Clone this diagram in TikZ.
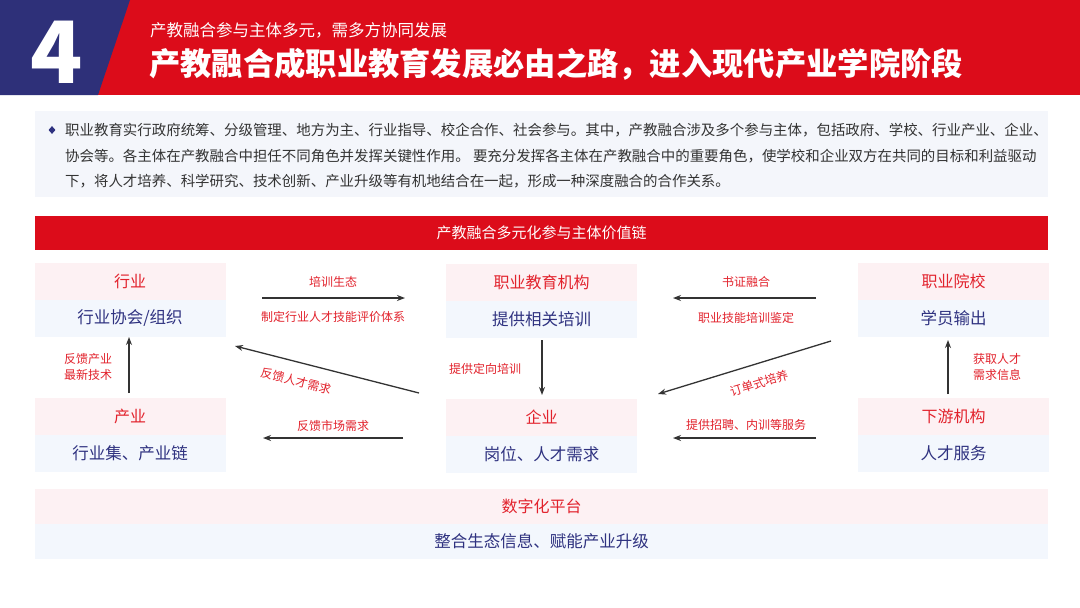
\documentclass[tikz,border=0pt]{standalone}
\usepackage{fontspec}
\setmainfont{Noto Sans CJK SC}
\usetikzlibrary{arrows.meta,shapes.geometric}
\definecolor{hred}{HTML}{DC0C1A}
\definecolor{hblue}{HTML}{2E3079}
\definecolor{tred}{HTML}{E2222C}
\definecolor{tnavy}{HTML}{2F3280}
\definecolor{pinkbg}{HTML}{FDF1F3}
\definecolor{bluebg}{HTML}{F3F7FD}
\definecolor{boxbg}{HTML}{F4F6FB}
\definecolor{arr}{HTML}{333333}
\definecolor{body}{HTML}{333333}
\tikzset{
  x=1pt, y=-1pt,
  head/.style={fill=pinkbg, text=tred, minimum width=191pt, minimum height=37pt, inner sep=0pt, font=\fontsize{16}{18}\selectfont},
  sub/.style={fill=bluebg, text=tnavy, minimum width=191pt, minimum height=37pt, inner sep=0pt, font=\fontsize{16.5}{18}\selectfont},
  lab/.style={text=tred, inner sep=1pt, font=\fontsize{12}{16}\selectfont},
  flow/.style={draw=arr, line width=1.3pt, -{Stealth[length=8pt,width=6pt]}},
  bodytxt/.style={anchor=west, text=body, inner sep=0pt, font=\fontsize{14.45}{17}\selectfont},
}
\begin{document}
\begin{tikzpicture}
\useasboundingbox (0,0) rectangle (1080,608);
\fill[white] (0,0) rectangle (1080,608);
% header
\fill[hred] (0,0) rectangle (1080,95);
\fill[hblue] (0,0) -- (130,0) -- (98,95) -- (0,95) -- cycle;
\node[text=white, font=\fontsize{86}{86}\bfseries\selectfont, inner sep=0pt] (num) at (57,52) {4};
\node[anchor=west, text=white, inner sep=0pt, font=\fontsize{16.5}{18}\selectfont] (subt) at (150,30) {产教融合参与主体多元，需多方协同发展};
\node[anchor=west, text=white, inner sep=0pt, font=\fontsize{31.3}{33}\bfseries\selectfont] (title) at (149,64) {产教融合成职业教育发展必由之路，进入现代产业学院阶段};
% intro box
\fill[boxbg] (35,111) rectangle (1048,197);
\node[diamond, fill=tnavy, inner sep=0pt, minimum width=7pt, minimum height=8pt] (bul) at (52,130) {};
\node[bodytxt] (l1) at (65,130) {职业教育实行政府统筹、分级管理、地方为主、行业指导、校企合作、社会参与。其中，产教融合涉及多个参与主体，包括政府、学校、行业产业、企业、};
\node[bodytxt] (l2) at (65,156) {协会等。各主体在产教融合中担任不同角色并发挥关键性作用。 要充分发挥各主体在产教融合中的重要角色，使学校和企业双方在共同的目标和利益驱动};
\node[bodytxt] (l3) at (65,181) {下，将人才培养、科学研究、技术创新、产业升级等有机地结合在一起，形成一种深度融合的合作关系。};
% red bar
\node[fill=hred, text=white, minimum width=1013pt, minimum height=34pt, inner sep=0pt, font=\fontsize{15}{18}\selectfont] (bar) at (541.5,233) {产教融合多元化参与主体价值链};
% boxes
\node[head] (hy) at (130,281) {行业};
\node[sub] (hys) at (130,318) {行业协会/组织};
\node[head] (cy) at (130,416) {产业};
\node[sub] (cys) at (130,453) {行业集、产业链};
\node[head] (zj) at (541.5,282) {职业教育机构};
\node[sub] (zjs) at (541.5,319) {提供相关培训};
\node[head] (qy) at (541.5,417) {企业};
\node[sub] (qys) at (541.5,454) {岗位、人才需求};
\node[head] (yx) at (953.5,281) {职业院校};
\node[sub] (yxs) at (953.5,318) {学员输出};
\node[head] (xy) at (953.5,416) {下游机构};
\node[sub] (xys) at (953.5,453) {人才服务};
\node[head, minimum width=1013pt, minimum height=35pt] (pt) at (541.5,506) {数字化平台};
\node[sub, minimum width=1013pt, minimum height=35pt] (pts) at (541.5,541) {整合生态信息、赋能产业升级};
% connector ends
\coordinate (a1s) at (262,298); \coordinate (a1e) at (405,298);
\coordinate (a2s) at (816,298); \coordinate (a2e) at (673,298);
\coordinate (a3s) at (542,340); \coordinate (a3e) at (542,395);
\coordinate (a4s) at (831,341); \coordinate (a4e) at (658,394);
\coordinate (a5s) at (816,438); \coordinate (a5e) at (673,438);
\coordinate (a6s) at (403,438); \coordinate (a6e) at (263,438);
\coordinate (a7s) at (419,393); \coordinate (a7e) at (235,346);
\coordinate (a8s) at (129,393); \coordinate (a8e) at (129,337);
\coordinate (a9s) at (948,394); \coordinate (a9e) at (948,340);
\draw[flow] (a1s) -- (a1e);
\draw[flow] (a2s) -- (a2e);
\draw[flow] (a3s) -- (a3e);
\draw[flow] (a4s) -- (a4e);
\draw[flow] (a5s) -- (a5e);
\draw[flow] (a6s) -- (a6e);
\draw[flow] (a7s) -- (a7e);
\draw[flow] (a8s) -- (a8e);
\draw[flow] (a9s) -- (a9e);
% labels
\node[lab] (t1) at (333,282) {培训生态};
\node[lab] (t1b) at (333,317) {制定行业人才技能评价体系};
\node[lab] (t2) at (746,282) {书证融合};
\node[lab] (t2b) at (746,318) {职业技能培训鉴定};
\node[lab] (t3) at (485,369) {提供定向培训};
\node[lab, rotate=17] (t4) at (759,383) {订单式培养};
\node[lab] (t5) at (746,425) {提供招聘、内训等服务};
\node[lab] (t6) at (333,426) {反馈市场需求};
\node[lab, rotate=-14] (t7) at (296,381) {反馈人才需求};
\node[lab, align=center] (t8) at (88,367) {反馈产业\\最新技术};
\node[lab, align=center] (t9) at (997,367) {获取人才\\需求信息};
\end{tikzpicture}
\end{document}
